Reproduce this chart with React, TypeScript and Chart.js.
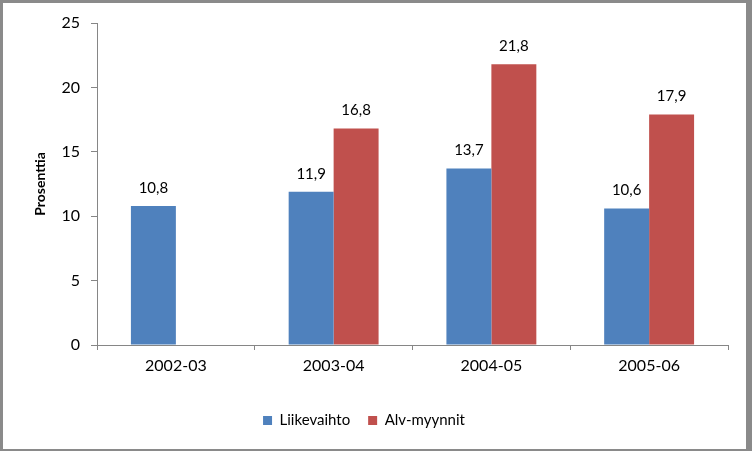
import React, { useEffect, useRef } from "react";
import { Chart, registerables } from "chart.js";

Chart.register(...registerables);

const categories = ["2002-03", "2003-04", "2004-05", "2005-06"];
const liikevaihto = [10.8, 11.9, 13.7, 10.6];
const alvMyynnit: (number | null)[] = [null, 16.8, 21.8, 17.9];
const seriesNames = ["Liikevaihto", "Alv-myynnit"];
const yTicks = [0, 5, 10, 15, 20, 25];

const FONT = "Lato, 'Open Sans', sans-serif";
const AXIS = "#868686";

const framePlugin = {
  id: "frame",
  beforeDraw(chart: any) {
    const { ctx, width, height } = chart;
    ctx.save();
    ctx.fillStyle = "#8a8a8a";
    ctx.fillRect(0, 0, width, height);
    ctx.fillStyle = "#ffffff";
    ctx.fillRect(3, 3, width - 9, height - 5);
    ctx.restore();
  },
};

const valueLabels = {
  id: "valueLabels",
  afterDatasetsDraw(chart: any) {
    const { ctx } = chart;
    ctx.save();
    ctx.font = `15px ${FONT}`;
    ctx.fillStyle = "#000";
    ctx.textAlign = "center";
    ctx.textBaseline = "middle";
    chart.data.datasets.forEach((ds: any, i: number) => {
      const meta = chart.getDatasetMeta(i);
      meta.data.forEach((bar: any, j: number) => {
        const v = ds.data[j];
        if (v === null || v === undefined) return;
        ctx.fillText(String(v.toFixed(1)).replace(".", ","), bar.x, bar.y - 18);
      });
    });
    ctx.restore();
  },
};

export default function App() {
  const ref = useRef<HTMLCanvasElement>(null);
  useEffect(() => {
    document.body.style.margin = "0";
    const chart = new Chart(ref.current!, {
      type: "bar",
      data: {
        labels: categories,
        datasets: [
          {
            label: seriesNames[0],
            data: liikevaihto,
            backgroundColor: "#4F81BD",
            categoryPercentage: 0.57,
            barPercentage: 1,
          },
          {
            label: seriesNames[1],
            data: alvMyynnit,
            backgroundColor: "#C0504D",
            categoryPercentage: 0.57,
            barPercentage: 1,
          },
        ],
      },
      options: {
        animation: false,
        responsive: false,
        maintainAspectRatio: false,
        layout: { padding: { top: 23, right: 24, left: 0, bottom: 13 } },
        plugins: {
          tooltip: { enabled: false },
          legend: {
            position: "bottom",
            labels: {
              font: { family: FONT, size: 15 },
              color: "#000",
              boxWidth: 9,
              boxHeight: 9,
              padding: 18,
            },
          },
        },
        scales: {
          x: {
            grid: {
              drawOnChartArea: false,
              drawTicks: true,
              tickLength: 5,
              color: AXIS,
              offset: true,
            },
            border: { display: true, color: AXIS },
            ticks: {
              font: { family: FONT, size: 16 },
              color: "#000",
              padding: 6,
              maxRotation: 0,
            },
            afterFit(scale: any) {
              scale.height = 50;
            },
          },
          y: {
            min: 0,
            max: 25,
            afterBuildTicks(scale: any) {
              scale.ticks = yTicks.map((v) => ({ value: v }));
            },
            grid: {
              drawOnChartArea: false,
              drawTicks: true,
              tickLength: 6,
              color: AXIS,
            },
            border: { display: true, color: AXIS },
            ticks: {
              font: { family: FONT, size: 16 },
              color: "#000",
              padding: 11,
            },
            title: {
              display: true,
              text: "Prosenttia",
              font: { family: FONT, size: 14, weight: "bold" },
              color: "#000",
              padding: { top: 32, bottom: 0 },
            },
            afterFit(scale: any) {
              scale.width = 97;
            },
          },
        },
      },
      plugins: [framePlugin, valueLabels],
    });
    return () => chart.destroy();
  }, []);
  return <canvas ref={ref} width={752} height={451} style={{ display: "block" }} />;
}
